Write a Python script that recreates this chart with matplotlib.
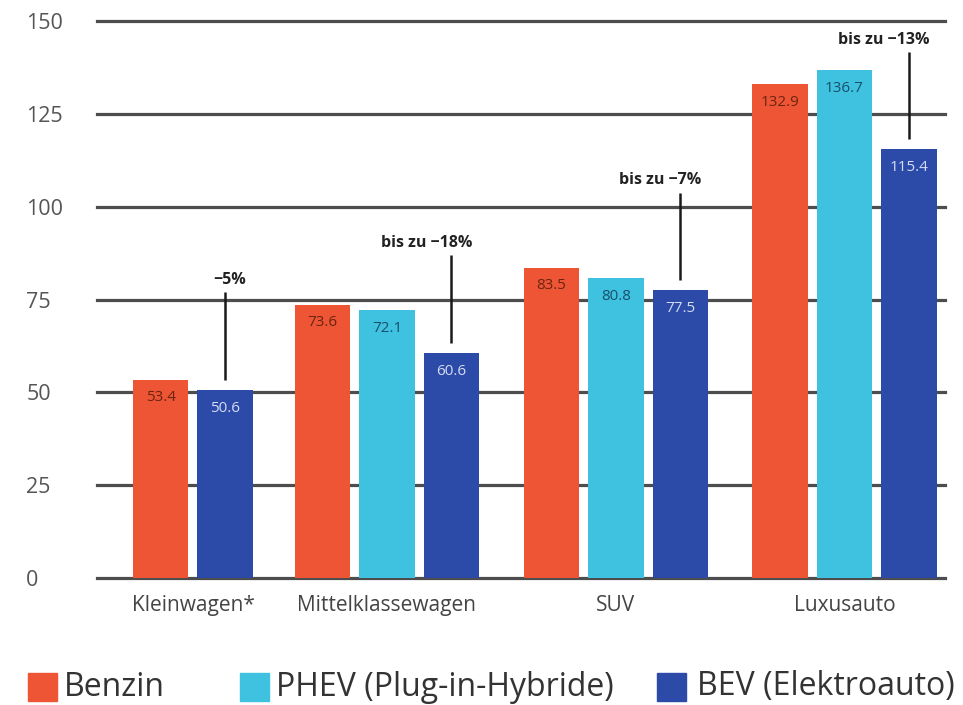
import matplotlib
matplotlib.use('Agg')
import matplotlib.pyplot as plt
from matplotlib.patches import Rectangle
import numpy as np

matplotlib.rc('font', family=['Open Sans', 'DejaVu Sans'])

# data
categories = ['Kleinwagen*', 'Mittelklassewagen', 'SUV', 'Luxusauto']
series = ['Benzin', 'PHEV (Plug-in-Hybride)', 'BEV (Elektroauto)']
benzin = [53.4, 73.6, 83.5, 132.9]
phev = [None, 72.1, 80.8, 136.7]
bev = [50.6, 60.6, 77.5, 115.4]
savings = ['−5%', 'bis zu −18%', 'bis zu −7%', 'bis zu −13%']
yticks = [0, 25, 50, 75, 100, 125, 150]

colors = ['#EE5535', '#3FC2E0', '#2C4BA8']
label_colors = ['#6a2410', '#174f6c', '#d5dcf3']

W, H = 963, 705
fig = plt.figure(figsize=(W / 100, H / 100), dpi=100)
ax = fig.add_axes([97 / W, (H - 578) / H, 848 / W, 557 / H])

# group centres in units of bar pitch (Kleinwagen has no PHEV bar)
centres = [0.0, 3.008, 6.558, 10.10]
width = 0.86

for y in yticks:
    ax.axhline(y, color='#4d4d4d', lw=2.3, zorder=1, clip_on=False)

for i, c in enumerate(centres):
    vals = [benzin[i], phev[i], bev[i]]
    present = [k for k, v in enumerate(vals) if v is not None]
    offs = np.arange(len(present)) - (len(present) - 1) / 2
    for off, k in zip(offs, present):
        x = c + off
        ax.bar(x, vals[k], width=width, color=colors[k], zorder=2)
        ax.annotate(f'{vals[k]:.1f}', (x, vals[k]), xytext=(0, -13),
                    textcoords='offset points', ha='center', va='center',
                    fontsize=11, color=label_colors[k], zorder=3)
    # saving bracket above BEV bar
    xb = c + offs[-1]
    top = bev[i]
    ax.plot([xb, xb], [top + 2.8, top + 26.3], color='#1a1a1a', lw=1.8,
            zorder=3, solid_capstyle='butt')
    ax.annotate(savings[i], (xb, top + 29.6), xytext=(15, 0),
                textcoords='offset points', ha='right', va='center',
                fontsize=11.5, fontweight='bold', color='#222222')

ax.set_xlim(-1.488, 11.659)
ax.set_ylim(0, 150)
ax.set_xticks(centres)
ax.set_xticklabels(categories, fontsize=15, color='#444444')
ax.set_yticks(yticks)
ax.set_yticklabels([str(t) for t in yticks], fontsize=15.5, color='#555555',
                   ha='left')
ax.tick_params(axis='y', length=0, pad=51)
ax.tick_params(axis='x', length=0, pad=12)
for s in ax.spines.values():
    s.set_visible(False)

# legend along the bottom
leg_sq = [28, 240, 657]
leg_tx = [64, 276, 697]
yc = H - 687
for k in range(3):
    fig.add_artist(Rectangle((leg_sq[k] / W, (yc - 14) / H), 29 / W, 28 / H,
                             transform=fig.transFigure, color=colors[k]))
    fig.text(leg_tx[k] / W, yc / H, series[k], fontsize=23, color='#333333',
             ha='left', va='center')

fig.savefig('out.png', dpi=100)
